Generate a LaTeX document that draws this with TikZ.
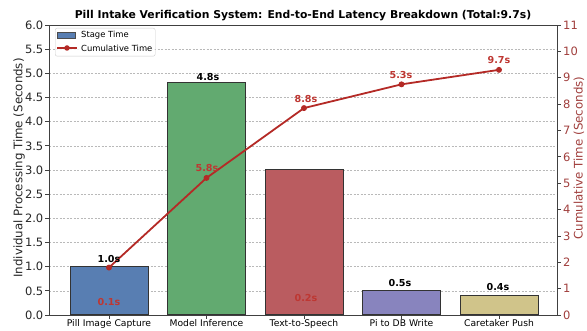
\documentclass[tikz,border=0pt]{standalone}
\usepackage{fontspec}
\setmainfont{DejaVu Sans}
\begin{document}
\begin{tikzpicture}[x=1pt,y=1pt,
  ticklbl/.style={font=\fontsize{11.5}{12}\selectfont, inner sep=0pt, text=black!85},
  rticklbl/.style={font=\fontsize{11.5}{12}\selectfont, inner sep=0pt, text=axred, anchor=west},
  xlbl/.style={font=\fontsize{9.2}{11}\selectfont, inner sep=0pt},
  barstyle/.style={draw=black!80, line width=0.7pt},
  vallbl/.style={font=\bfseries\fontsize{9.6}{11}\selectfont, inner sep=0pt},
  cumlbl/.style={font=\bfseries\fontsize{9.6}{11}\selectfont, inner sep=0pt, text=cumlabel},
  gridline/.style={draw=gray!55, dash pattern=on 2pt off 1.5pt, line width=0.5pt},
  cumline/.style={draw=cumred, line width=1.8pt},
  dot/.style={circle, fill=cumred, inner sep=0pt, minimum size=6pt},
]
\definecolor{cumred}{RGB}{180,42,38}
\definecolor{cumlabel}{RGB}{190,55,50}
\definecolor{axred}{RGB}{160,62,60}
\definecolor{bara}{RGB}{88,126,178}
\definecolor{barb}{RGB}{98,170,112}
\definecolor{barc}{RGB}{186,92,96}
\definecolor{bard}{RGB}{136,132,190}
\definecolor{bare}{RGB}{208,196,138}
\useasboundingbox (0,0) rectangle (587,330);
% grid
\foreach \v in {0.5,1.0,...,5.6} {
  \draw[gridline] (49,{15+48.33*\v}) -- (557,{15+48.33*\v});
}
% bars
\foreach \i/\h/\c in {0/1.0/bara,1/4.8/barb,2/3.0/barc,3/0.5/bard,4/0.4/bare} {
  \node[barstyle, fill=\c, minimum width=78pt, minimum height={48.33*\h*1pt}, inner sep=0pt, anchor=south] (bar\i) at ({109+97.5*\i},15) {};
}
% frame
\draw[line width=0.8pt, black!75] (49,15) rectangle (557,305);
% left ticks
\foreach \v/\t in {0.0/0.0,0.5/0.5,1.0/1.0,1.5/1.5,2.0/2.0,2.5/2.5,3.0/3.0,3.5/3.5,4.0/4.0,4.5/4.5,5.0/5.0,5.5/5.5,6.0/6.0} {
  \draw[black!75, line width=0.7pt] (45,{15+48.33*\v}) -- (49,{15+48.33*\v});
  \node[ticklbl, anchor=east] at (43.5,{15+48.33*\v}) {\t};
}
% right ticks
\foreach \v in {0,...,11} {
  \draw[black!75, line width=0.7pt] (557,{15+26.36*\v}) -- (561,{15+26.36*\v});
  \node[rticklbl] at (563,{15+26.36*\v}) {\v};
}
% x ticks and labels
\foreach \i/\t in {0/Pill Image Capture,1/Model Inference,2/Text-to-Speech,3/Pi to DB Write,4/Caretaker Push} {
  \draw[black!75, line width=0.7pt] ({109+97.5*\i},15) -- ({109+97.5*\i},11);
  \node[xlbl, anchor=north] (xl\i) at ({109+97.5*\i},10.5) {\t};
}
% cumulative line
\node[dot] (c0) at (109,{15+26.36*1.8}) {};
\node[dot] (c1) at (206.5,{15+26.36*5.2}) {};
\node[dot] (c2) at (304,{15+26.36*7.85}) {};
\node[dot] (c3) at (401.5,{15+26.36*8.75}) {};
\node[dot] (c4) at (499,{15+26.36*9.3}) {};
\draw[cumline] (c0.center) -- (c1.center) -- (c2.center) -- (c3.center) -- (c4.center);
% value labels
\node[vallbl] (v0) at (109,70.5) {1.0s};
\node[vallbl] (v1) at (208,252.5) {4.8s};
\node[vallbl] (v3) at (400,47) {0.5s};
\node[vallbl] (v4) at (498,43) {0.4s};
% cumulative labels
\node[cumlbl] (k0) at (109,28) {0.1s};
\node[cumlbl] (k1) at (207,162) {5.8s};
\node[cumlbl] (k2) at (306,231) {8.8s};
\node[cumlbl] (k3) at (401,255) {5.3s};
\node[cumlbl] (k4) at (499,270) {9.7s};
\node[cumlbl] (k5) at (306,32) {0.2s};
% axis labels
\node[rotate=90, font=\fontsize{11.8}{13}\selectfont, inner sep=0pt, text=black!85] (ylab) at (19,162) {Individual Processing Time (Seconds)};
\node[rotate=90, font=\fontsize{11.8}{13}\selectfont, inner sep=0pt, text=axred] (y2lab) at (579,172) {Cumulative Time (Seconds)};
% title
\node[font=\bfseries\fontsize{10.8}{13}\selectfont, inner sep=0pt] (title) at (303,314) {Pill Intake Verification System: End-to-End Latency Breakdown (Total:9.7s)};
% legend
\node[draw=gray!40, fill=white, fill opacity=0.85, rounded corners=2pt, minimum width=100pt, minimum height=28pt, anchor=north west, inner sep=0pt] (legend) at (55,302) {};
\node[draw=black!70, fill=bara, line width=0.5pt, minimum width=18pt, minimum height=5.5pt, inner sep=0pt] (lp) at (66,294.5) {};
\coordinate (la) at (57,282);
\coordinate (lb) at (77,282);
\draw[cumline] (la) -- (lb);
\node[dot, minimum size=5.5pt] (ld) at (67,282) {};
\node[font=\fontsize{8.4}{10}\selectfont, anchor=west, inner sep=0pt] (lt1) at (81,294.5) {Stage Time};
\node[font=\fontsize{8.4}{10}\selectfont, anchor=west, inner sep=0pt] (lt2) at (81,282) {Cumulative Time};
\end{tikzpicture}
\end{document}
